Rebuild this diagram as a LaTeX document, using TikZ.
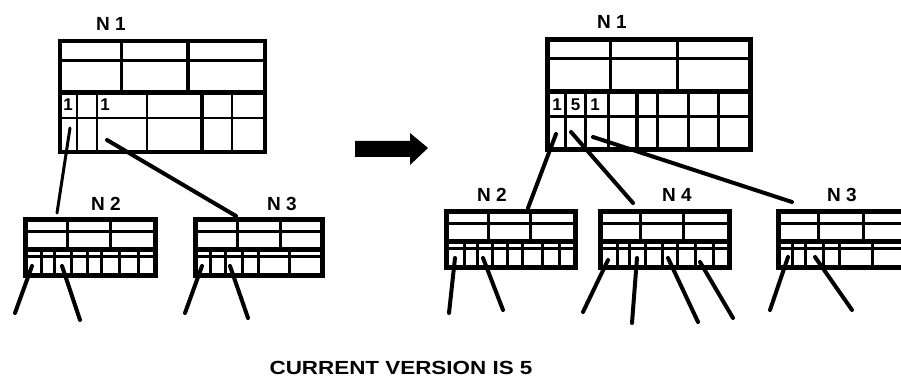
\documentclass[tikz,border=0pt]{standalone}
\usepackage{fontspec}
\setmainfont{Liberation Sans}
\usepackage{graphicx}
\tikzset{
  boxframe/.style={draw=black, fill=white, inner sep=0pt, outer sep=0pt, anchor=north west},
  thinln/.style={line width=2.5pt},
  midln/.style={line width=3pt},
  heavyln/.style={line width=5pt},
  ptr/.style={line width=4pt, line cap=round},
  lbl/.style={font=\bfseries\fontsize{19}{19}\selectfont, inner sep=0pt},
  dig/.style={font=\bfseries\fontsize{17}{17}\selectfont, inner sep=0pt}
}
\newcommand\smallbox[6]{%
  \pgfmathsetmacro\bw{#3-#2}%
  \node[boxframe, line width=5pt, minimum width=\bw pt, minimum height=56pt] (#1) at (#2,#4) {};
  \draw[thinln] (#2,#4+12) -- (#3,#4+12);
  \draw[heavyln] (#2,#4+30) -- (#3,#4+30);
  \draw[thinln] (#2,#4+37) -- (#3,#4+37);
  \foreach \xx in {#5} \draw[midln] (\xx,#4) -- (\xx,#4+30);
  \foreach \xx in {#6} \draw[midln] (\xx,#4+30) -- (\xx,#4+56);
}
\begin{document}
\begin{tikzpicture}[x=1pt,y=-1pt]
\useasboundingbox (0,0) rectangle (901,379);
\clip (0,0) rectangle (901,379);

% ---------- left N1 ----------
\node[boxframe, line width=4pt, minimum width=205pt, minimum height=111pt] (n1L) at (60,41) {};
\draw[midln] (60,61) -- (265,61);
\draw[heavyln] (60,93) -- (265,93);
\draw[thinln] (60,118) -- (265,118);
\draw[midln] (121,41) -- (121,93);
\draw[line width=3.5pt] (188,41) -- (188,93);
\foreach \xx in {77,97,147,232} \draw[thinln] (\xx,93) -- (\xx,152);
\draw[line width=4pt] (202,93) -- (202,152);
\node[dig] (d1L) at (68,105) {1};
\node[dig] (d2L) at (105,105) {1};
\node[lbl] (t1L) at (111,24) {N 1};

% ---------- left N2, N3 ----------
\smallbox{n2L}{25.5}{155.5}{219.5}{67,110}{41.5,54.5,71.5,87,101.5,119.5,138}
\node[lbl] (t2L) at (106,204) {N 2};
\smallbox{n3L}{195.5}{322.5}{219.5}{237,280}{210,225,242,258,289}
\node[lbl] (t3L) at (282,204) {N 3};

% connectors left
\coordinate (a1) at (70,128); \coordinate (a2) at (57,213);
\coordinate (b1) at (107,140); \coordinate (b2) at (236,216);
\draw[ptr, line width=3pt] (a1) -- (a2);
\draw[ptr] (b1) -- (b2);
\coordinate (c1) at (32,266); \coordinate (c2) at (15,313);
\coordinate (c3) at (62,266); \coordinate (c4) at (80,320);
\coordinate (c5) at (202,266); \coordinate (c6) at (185,313);
\coordinate (c7) at (230,266); \coordinate (c8) at (248,318);
\draw[ptr] (c1) -- (c2);
\draw[ptr] (c3) -- (c4);
\draw[ptr] (c5) -- (c6);
\draw[ptr] (c7) -- (c8);

% ---------- arrow ----------
\fill (355,141) -- (410,141) -- (410,133) -- (428,148) -- (410,165) -- (410,157) -- (355,157) -- cycle;

% ---------- right N1 ----------
\node[boxframe, line width=5pt, minimum width=203pt, minimum height=110pt] (n1R) at (547.5,39.5) {};
\draw[midln] (547.5,58.5) -- (750.5,58.5);
\draw[heavyln] (547.5,92) -- (750.5,92);
\draw[thinln] (547.5,116.5) -- (750.5,116.5);
\draw[midln] (610,39.5) -- (610,92);
\draw[midln] (677,39.5) -- (677,92);
\foreach \xx in {565,585,608,657,688,718} \draw[midln] (\xx,92) -- (\xx,149.5);
\draw[line width=4pt] (637,92) -- (637,149.5);
\node[dig] (d1R) at (557,105) {1};
\node[dig] (d2R) at (575.5,105) {5};
\node[dig] (d3R) at (595,105) {1};
\node[lbl] (t1R) at (612,22) {N 1};

% ---------- right small nodes ----------
\smallbox{n2R}{446.5}{575.5}{211.5}{488,530}{464,477,492,507,522,542,559}
\node[lbl] (t2R) at (492,195) {N 2};
\smallbox{n4R}{600.5}{729.5}{211.5}{640,683}{617,629,645,662,677,695,713}
\node[lbl] (t4R) at (677,195) {N 4};
\smallbox{n3R}{778.5}{930}{211.5}{818,863}{792,805,823,839,872}
\node[lbl] (t3R) at (842,195) {N 3};

% connectors right
\coordinate (e1) at (556,134); \coordinate (e2) at (528,208);
\coordinate (f1) at (571,132); \coordinate (f2) at (633,203);
\coordinate (g1) at (593,137); \coordinate (g2) at (792,202);
\draw[ptr] (e1) -- (e2);
\draw[ptr] (f1) -- (f2);
\draw[ptr] (g1) -- (g2);
\coordinate (h1) at (455,258); \coordinate (h2) at (449,313);
\coordinate (h3) at (483,258); \coordinate (h4) at (503,310);
\draw[ptr] (h1) -- (h2);
\draw[ptr] (h3) -- (h4);
\coordinate (k1) at (608,260); \coordinate (k2) at (583,312);
\coordinate (k3) at (637,258); \coordinate (k4) at (632,323);
\coordinate (k5) at (668,258); \coordinate (k6) at (698,322);
\coordinate (k7) at (700,262); \coordinate (k8) at (733,318);
\draw[ptr] (k1) -- (k2);
\draw[ptr] (k3) -- (k4);
\draw[ptr] (k5) -- (k6);
\draw[ptr] (k7) -- (k8);
\coordinate (m1) at (788,257); \coordinate (m2) at (770,310);
\coordinate (m3) at (815,257); \coordinate (m4) at (852,310);
\draw[ptr] (m1) -- (m2);
\draw[ptr] (m3) -- (m4);

% ---------- caption ----------
\node[font=\bfseries\fontsize{19}{19}\selectfont, inner sep=0pt] (cap) at (401,368) {\scalebox{1.18}[1]{CURRENT VERSION IS 5}};
\end{tikzpicture}
\end{document}
